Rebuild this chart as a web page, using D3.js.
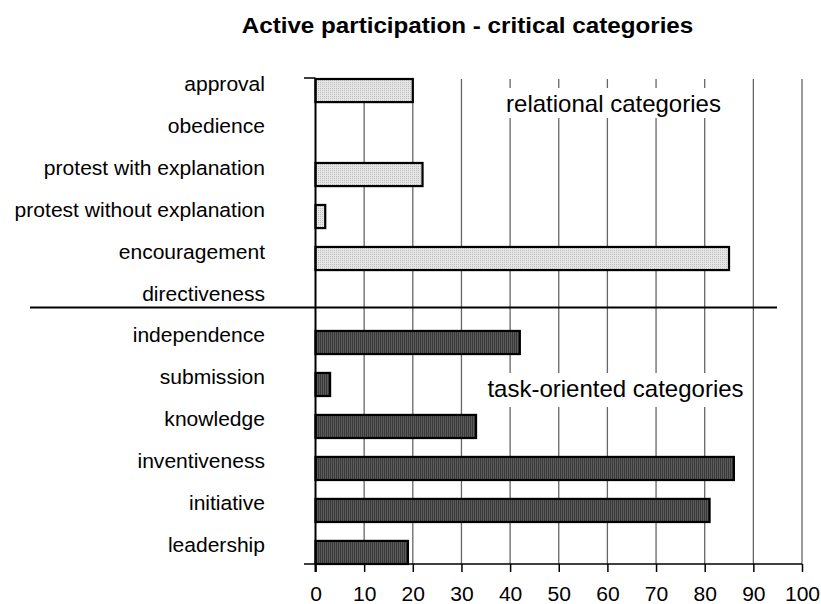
<!DOCTYPE html>
<html><head><meta charset="utf-8">
<script src="https://cdn.jsdelivr.net/npm/d3@7/dist/d3.min.js"></script>
<style>body{margin:0;background:#fff}svg{display:block;font-family:"Liberation Sans",Arial,sans-serif}</style>
</head><body><svg id="c" width="821" height="604"></svg>
<script>
const categories = ["approval","obedience","protest with explanation","protest without explanation","encouragement","directiveness","independence","submission","knowledge","inventiveness","initiative","leadership"];
const values = [20,0,22,2,85,0,42,3,33,86,81,19];
const groups = ["relational","relational","relational","relational","relational","relational","task","task","task","task","task","task"];
const xTicks = [0,10,20,30,40,50,60,70,80,90,100];
const title = "Active participation - critical categories";
const groupLabels = ["relational categories","task-oriented categories"];

const SX = 1.08; // horizontal text stretch seen in reference
const svg = d3.select("#c");
const defs = svg.append("defs");
const p1 = defs.append("pattern").attr("id","dots").attr("patternUnits","userSpaceOnUse").attr("width",2).attr("height",2);
p1.append("rect").attr("width",2).attr("height",2).attr("fill","#e6e6e6");
p1.append("rect").attr("width",1).attr("height",1).attr("fill","#bdbdbd");
const p2 = defs.append("pattern").attr("id","stripes").attr("patternUnits","userSpaceOnUse").attr("width",2).attr("height",2);
p2.append("rect").attr("width",2).attr("height",2).attr("fill","#5a5a5a");
p2.append("rect").attr("width",1).attr("height",2).attr("fill","#3a3a3a");

const x = d3.scaleLinear().domain([0,100]).range([315.5,802]);
const y = d3.scaleBand().domain(categories).range([79,564]).paddingInner(0.45).paddingOuter(0);

svg.append("text").attr("transform",`translate(467.5,33) scale(${SX+0.02},1)`).attr("text-anchor","middle")
  .attr("font-weight","bold").attr("font-size",22).text(title);

// gridlines
svg.append("g").selectAll("line").data(xTicks.slice(1)).join("line")
  .attr("x1",d=>x(d)).attr("x2",d=>x(d)).attr("y1",79).attr("y2",564)
  .attr("stroke","#666").attr("stroke-width",1.3);

// annotation backgrounds
svg.append("rect").attr("x",503).attr("y",88).attr("width",222).attr("height",30).attr("fill","#fff");
svg.append("rect").attr("x",478).attr("y",373).attr("width",268).attr("height",34).attr("fill","#fff");
svg.append("text").attr("x",613.5).attr("y",111.5).attr("text-anchor","middle").attr("font-size",24).text(groupLabels[0]);
svg.append("text").attr("x",615.5).attr("y",397).attr("text-anchor","middle").attr("font-size",24).text(groupLabels[1]);

// bars
svg.append("g").selectAll("rect").data(categories.map((c,i)=>({c,v:values[i],g:groups[i]}))).join("rect")
  .filter(d=>d.v>0)
  .attr("x",x(0)).attr("y",d=>y(d.c)).attr("width",d=>x(d.v)-x(0)).attr("height",y.bandwidth())
  .attr("fill",d=>d.g==="relational"?"url(#dots)":"url(#stripes)")
  .attr("stroke","#000").attr("stroke-width",2.2);

// x axis
const xa = svg.append("g").attr("transform","translate(0,564)")
  .call(d3.axisBottom(x).tickValues(xTicks).tickSize(8).tickFormat(d3.format("d")));
xa.select(".domain").remove();
xa.append("line").attr("x1",304).attr("x2",802).attr("stroke","#000").attr("stroke-width",1.5);
xa.selectAll(".tick line").attr("stroke","#000").attr("stroke-width",1.5);
xa.selectAll(".tick text").attr("y",null).attr("dy",null)
  .attr("transform",`translate(0,37) scale(${SX},1)`)
  .attr("font-size",19.5).attr("fill","#000").attr("font-family","Liberation Sans, Arial, sans-serif");

// y axis
svg.append("line").attr("x1",x(0)).attr("x2",x(0)).attr("y1",78).attr("y2",572).attr("stroke","#000").attr("stroke-width",2);
svg.append("line").attr("x1",304).attr("x2",x(0)).attr("y1",78).attr("y2",78).attr("stroke","#000").attr("stroke-width",1.5);

// category labels
svg.append("g").selectAll("text").data(categories).join("text")
  .attr("transform",d=>`translate(265,${y(d)+y.bandwidth()/2}) scale(${SX},1)`)
  .attr("text-anchor","end").attr("font-size",19.5).text(d=>d);

// divider
const yDiv = y("directiveness") + y.bandwidth()*0.8;
svg.append("line").attr("x1",30).attr("x2",777).attr("y1",yDiv).attr("y2",yDiv).attr("stroke","#000").attr("stroke-width",2);
</script></body></html>
